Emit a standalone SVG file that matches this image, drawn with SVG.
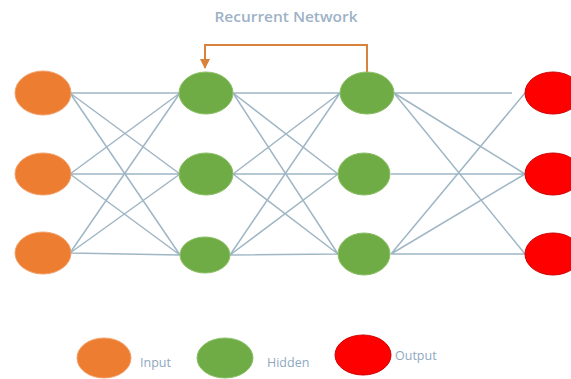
<svg xmlns="http://www.w3.org/2000/svg" width="571" height="379" viewBox="0 0 571 379">
<defs>
<style>
.edge{stroke:#9fb6c5;stroke-width:1.5;fill:none}
.in{fill:#ed7d31;stroke:#f2a06a;stroke-width:1}
.hid{fill:#6fac46;stroke:#8cc067;stroke-width:1}
.out{fill:#ff0000;stroke:#d00000;stroke-width:1}
.lbl{font-family:"Open Sans","Liberation Sans",sans-serif;font-size:12.5px;fill:#8fa8bf}
.title{font-family:"Open Sans","Liberation Sans",sans-serif;font-size:14px;font-weight:600;fill:#9db2c6}
.rec{stroke:#d9823b;stroke-width:2;fill:none}
</style>
<marker id="ah" viewBox="0 0 10 10" refX="9" refY="5" markerWidth="5" markerHeight="5" orient="auto" markerUnits="strokeWidth">
<path d="M0,0 L10,5 L0,10 z" fill="#d9823b"/>
</marker>
</defs>
<rect width="571" height="379" fill="#ffffff"/>
<text class="title" x="286" y="22" text-anchor="middle" textLength="143" lengthAdjust="spacingAndGlyphs">Recurrent Network</text>
<g id="connectors">
<path class="edge" d="M70,93 L180,93 M70,93 L180,174 M70,93 L180,255 M70,174 L180,93 M70,174 L180,174 M70,174 L180,255 M70,253 L180,93 M70,253 L180,174 M70,253 L180,255"/>
<path class="edge" d="M233,93 L340,93 M233,93 L338,174 M233,93 L338,254 M233,174 L340,93 M233,174 L338,174 M233,174 L338,254 M230,255 L340,93 M230,255 L338,174 M230,255 L338,254"/>
<path class="edge" d="M394,93 L512,93 M394,93 L525,174 M394,93 L525,254 M391,174 L525,174 M391,254 L525,93 M391,254 L525,174 M391,254 L525,254"/>
<path class="rec" d="M367,72 L367,45 L205,45 L205,68" marker-end="url(#ah)"/>
</g>
<g id="input1"><ellipse class="in" cx="43" cy="93" rx="28" ry="22"/></g>
<g id="input2"><ellipse class="in" cx="43" cy="174" rx="28" ry="21"/></g>
<g id="input3"><ellipse class="in" cx="43" cy="253" rx="28" ry="21"/></g>
<g id="hidden1a"><ellipse class="hid" cx="206" cy="93" rx="27" ry="21"/></g>
<g id="hidden1b"><ellipse class="hid" cx="206" cy="174" rx="27" ry="21"/></g>
<g id="hidden1c"><ellipse class="hid" cx="205" cy="255" rx="25" ry="18"/></g>
<g id="hidden2a"><ellipse class="hid" cx="367" cy="93" rx="27" ry="21"/></g>
<g id="hidden2b"><ellipse class="hid" cx="364" cy="174" rx="26" ry="21"/></g>
<g id="hidden2c"><ellipse class="hid" cx="364" cy="254" rx="26" ry="21"/></g>
<g id="output1"><ellipse class="out" cx="553" cy="93" rx="28" ry="21"/></g>
<g id="output2"><ellipse class="out" cx="553" cy="174" rx="28" ry="21"/></g>
<g id="output3"><ellipse class="out" cx="553" cy="254" rx="28" ry="21"/></g>
<g id="legend-input"><ellipse class="in" cx="104" cy="358" rx="27" ry="20"/><text class="lbl" x="140" y="367">Input</text></g>
<g id="legend-hidden"><ellipse class="hid" cx="225" cy="358" rx="28" ry="20"/><text class="lbl" x="267" y="367">Hidden</text></g>
<g id="legend-output"><ellipse class="out" cx="363" cy="355" rx="28" ry="20"/><text class="lbl" x="395" y="360">Output</text></g>
</svg>
